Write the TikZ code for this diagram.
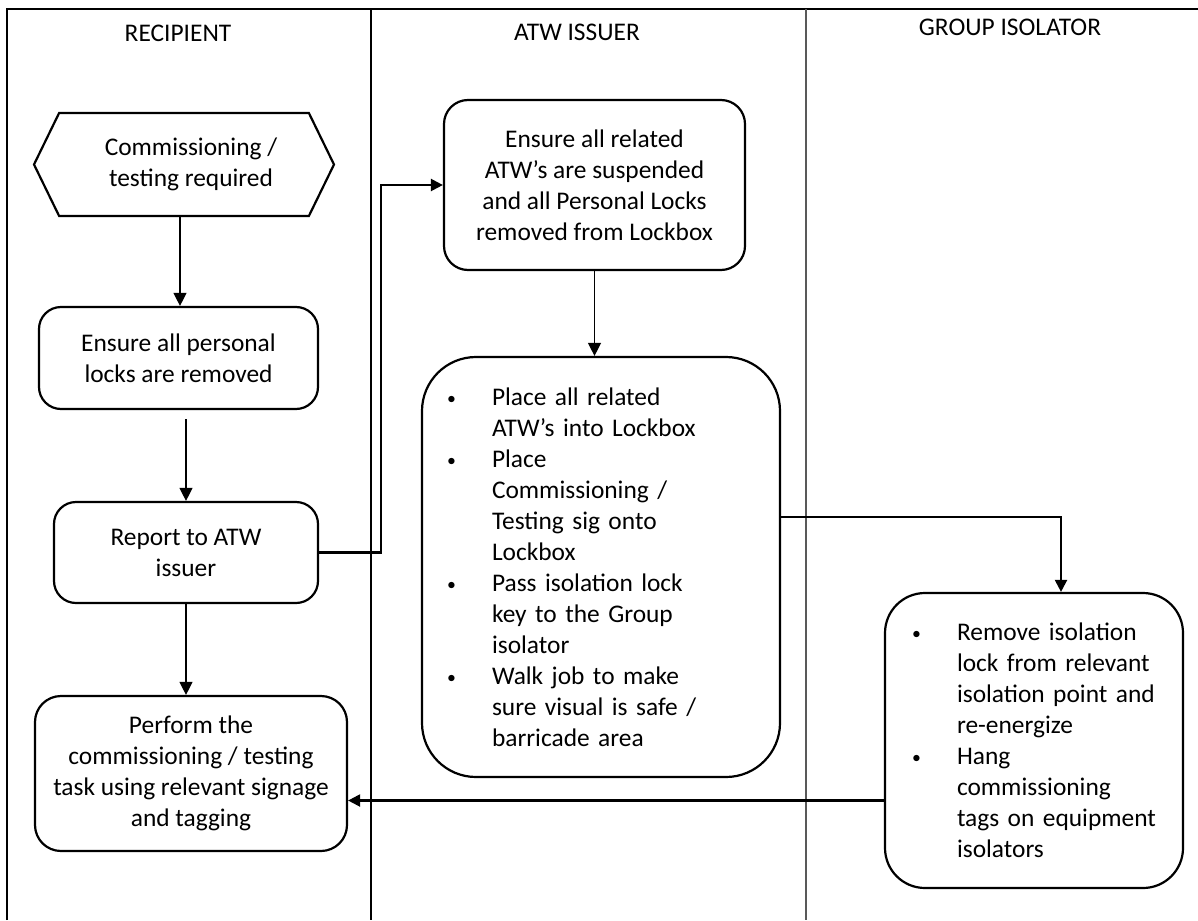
\documentclass[tikz,border=0pt]{standalone}
\usepackage{fontspec}
\setmainfont{Carlito}
\usepackage{tikz}
\usetikzlibrary{arrows.meta,shapes.symbols,positioning}

\newcommand{\bitem}[1]{\makebox[22.5pt][l]{\raisebox{0.6pt}{\scalebox{0.7}{\textbullet}}}#1}
\newcommand{\bcont}[1]{\hspace*{22.5pt}#1}

\tikzset{
  every node/.style={font=\fontsize{12.7pt}{15.5pt}\selectfont},
  stepbox/.style={draw, line width=1.1pt, rounded corners=#1, align=center, inner sep=0pt},
  stepbox/.default=11pt,
  flow/.style={line width=0.65pt, -{Triangle[length=6.5pt,width=6.5pt]}},
  bigflow/.style={line width=1.1pt, -{Triangle[length=6pt,width=6pt]}}
}

\begin{document}
\begin{tikzpicture}[x=0.5pt, y=-0.5pt]
\useasboundingbox (0,0) rectangle (1198,920);
% swim lanes
\draw[line width=1.2pt] (7,920) -- (7,9) -- (1198,9);
\draw[line width=0.7pt] (371,9) -- (371,920);
\draw[line width=0.8pt, black!65] (806,9) -- (806,920);
\node (h1) at (178,33) {RECIPIENT};
\node (h2) at (577,32) {ATW ISSUER};
\node (h3) at (1010,27) {GROUP ISOLATOR};
% recipient
\node[signal, signal to=west and east, signal pointer angle=128, draw, line width=1.1pt,
      minimum width=150pt, minimum height=51.5pt, inner sep=0pt, align=center]
      (1) at (184,164.5) {\hspace*{7pt}Commissioning /\\\hspace*{7pt}testing required};
\node[stepbox, minimum width=139.5pt, minimum height=51pt] (2) at (178.5,358)
      {Ensure all personal\\locks are removed};
\node[stepbox, minimum width=132pt, minimum height=50.5pt] (3) at (186,552.5)
      {Report to ATW\\issuer};
\node[stepbox=13pt, minimum width=156pt, minimum height=77.5pt] (4) at (191,773.5)
      {Perform the\\commissioning / testing\\task using relevant signage\\and tagging};
% atw issuer
\node[stepbox=12pt, minimum width=150.5pt, minimum height=85pt] (5) at (594.5,185)
      {Ensure all related\\ATW’s are suspended\\and all Personal Locks\\removed from Lockbox};
\node[stepbox=27pt, align=left, text width=154pt, inner xsep=12.5pt, minimum height=210pt]
      (6) at (601,567)
      {\bitem{Place all related}\\\bcont{ATW’s into Lockbox}\\\bitem{Place}\\
       \bcont{Commissioning /}\\\bcont{Testing sig onto}\\\bcont{Lockbox}\\
       \bitem{Pass isolation lock}\\\bcont{key to the Group}\\\bcont{isolator}\\
       \bitem{Walk job to make}\\\bcont{sure visual is safe /}\\\bcont{barricade area}};
% group isolator
\node[stepbox=20pt, align=left, text width=122pt, inner xsep=13.5pt, minimum height=147.5pt]
      (7) at (1034,740.5)
      {\bitem{Remove isolation}\\\bcont{lock from relevant}\\\bcont{isolation point and}\\
       \bcont{re-energize}\\\bitem{Hang}\\\bcont{commissioning}\\
       \bcont{tags on equipment}\\\bcont{isolators}};
% connectors
\coordinate (c1) at ([yshift=-30pt]7.west);
	\path[draw][flow] ([xshift=-2pt]1.south) -- ([xshift=-2pt]1.south |- 2.north);
	\path[draw][flow, shorten <=4.5pt] (3.north |- 2.south) -- (3.north);
	\path[draw][flow] (3.south) -- (3.south |- 4.north);
	\path[draw][flow] (5.south) -- (5.south |- 6.north);
	\path[draw][bigflow] (3.east) -- ++(62,0) |- (5.west);
	\path[draw][bigflow] ([yshift=25pt]6.east) -| ([xshift=13.5pt]7.north);
	\path[draw][bigflow] (c1) -- (c1 -| 4.east);
\end{tikzpicture}
\end{document}
